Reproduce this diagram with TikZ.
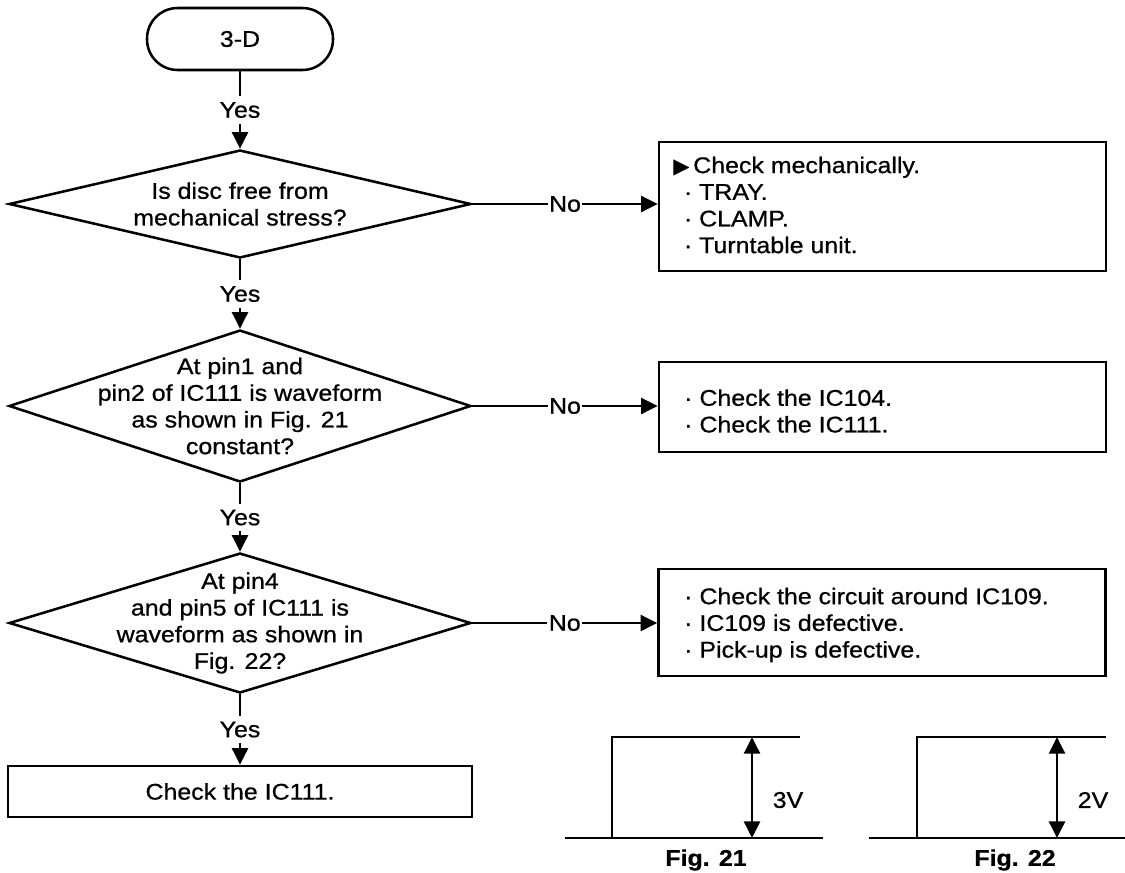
\documentclass[tikz,border=0pt]{standalone}
\usepackage{fontspec}
\setmainfont{Liberation Sans}[FakeStretch=1.1,FakeBold=0.8]
\newfontfamily\symbolfont{DejaVu Sans}
\usetikzlibrary{shapes.geometric,arrows.meta}

\begin{document}
\begin{tikzpicture}[x=0.75pt,y=-0.75pt,
  every node/.style={font=\fontsize{17}{20}\selectfont, inner sep=0pt},
  tip/.tip={Triangle[length=12.5pt,width=12pt]},
  line/.style={line width=1.9pt},
  flow/.style={line width=1.9pt, -tip},
  terminal/.style={draw, line width=1.9pt, rounded corners=23pt,
    minimum width=139.5pt, minimum height=46.5pt},
  decision/.style={draw, diamond, line width=1.9pt, inner sep=0pt,
    minimum width=346.5pt},
  qtext/.style={align=center},
  action/.style={draw, rectangle, line width=1.9pt, minimum width=335.25pt},
  itemtext/.style={align=left, anchor=west},
  branch/.style={fill=white, inner xsep=1pt, inner ysep=4.5pt},
  figlabel/.style={font=\fontsize{17}{20}\selectfont\bfseries}
]
\useasboundingbox (0,0) rectangle (1125,872);

% ---- main column ----
\node[terminal] (start) at (240,39) {3-D};

\node[decision, minimum height=81pt] (d1) at (240,204) {};
\node[qtext] (d1t) at (d1) {Is disc free from\\mechanical stress?};

\node[decision, minimum height=114pt] (d2) at (240,406) {};
\node[qtext] (d2t) at (d2) {At pin1 and\\pin2 of IC111 is waveform\\as shown in Fig. 21\\constant?};

\node[decision, minimum height=105pt] (d3) at (240,623) {};
\node[qtext] (d3t) at (d3) {At pin4\\and pin5 of IC111 is\\waveform as shown in\\Fig. 22?};

\node[draw, rectangle, line width=1.9pt, minimum width=348pt,
  minimum height=38.25pt] (fin) at (240,791.5) {Check the IC111.};

% ---- action boxes ----
\node[action, minimum height=96.75pt] (b1) at (882.5,206.5) {};
\node[itemtext] (b1t) at (673,205)
  {\makebox[15pt][l]{\symbolfont\fontsize{16}{20}\selectfont ▶}Check mechanically.\\
   \hspace*{8pt}· TRAY.\\
   \hspace*{8pt}· CLAMP.\\
   \hspace*{8pt}· Turntable unit.};

\node[action, minimum height=67.5pt] (b2) at (882.5,407) {};
\node[itemtext] (b2t) at (684,411)
  {· Check the IC104.\\· Check the IC111.};

\node[action, minimum height=80.25pt] (b3) at (882,622.5) {};
\node[itemtext] (b3t) at (684,625)
  {· Check the circuit around IC109.\\· IC109 is defective.\\· Pick-up is defective.};

% ---- connectors ----
\draw[flow] (start) -- node[branch] (y0) {Yes} (d1);
\draw[flow] (d1) -- node[branch] (y1) {Yes} (d2);
\draw[flow] (d2) -- node[branch] (y2) {Yes} (d3);
\draw[flow] (d3) -- node[branch] (y3) {Yes} (fin);

\draw[flow] (d1.east) -- node[branch] (n1) {No} (d1.east -| b1.west);
\draw[flow] (d2.east) -- node[branch] (n2) {No} (d2.east -| b2.west);
\draw[flow] (d3.east) -- node[branch] (n3) {No} (d3.east -| b3.west);

% ---- Fig. 21 waveform ----
\draw[line] (565,838) -- (823,838);
\draw[line] (612,838) -- (612,737) -- (800,737);
\draw[line, tip-tip] (752,737) -- (752,838);
\node (v21) at (788,800) {3V};
\node[figlabel] (f21) at (706,860) {Fig. 21};

% ---- Fig. 22 waveform ----
\draw[line] (869,838) -- (1125,838);
\draw[line] (917,838) -- (917,737) -- (1106,737);
\draw[line, tip-tip] (1057,737) -- (1057,838);
\node (v22) at (1093,800) {2V};
\node[figlabel] (f22) at (1015,860) {Fig. 22};
\end{tikzpicture}
\end{document}
